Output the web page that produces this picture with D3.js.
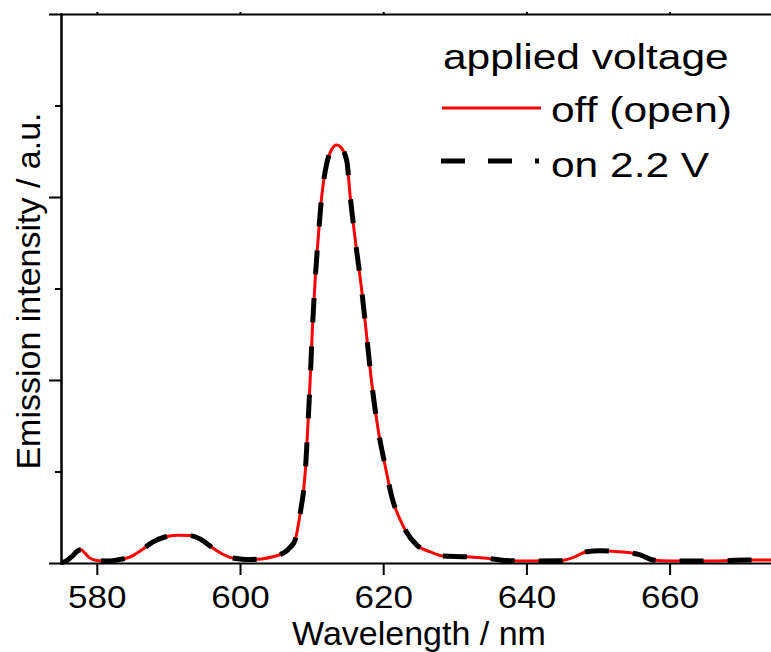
<!DOCTYPE html>
<html>
<head>
<meta charset="utf-8">
<title>Emission spectrum</title>
<script src="https://d3js.org/d3.v7.min.js"></script>
<style>
  body { margin: 0; background: #fff; }
  svg { display: block; font-family: "Liberation Sans", Arial, sans-serif; }
</style>
</head>
<body>
<svg id="chart" width="771" height="652"></svg>
<script>

  // wavelength (nm)
  let wavelengths = [575.0, 575.6, 576.5, 577.4, 577.8, 578.3, 579.0, 580.0, 581.8, 583.0,
    584.6, 586.2, 587.8, 589.5, 591.2, 593.0, 594.4, 595.3, 596.2, 597.4,
    598.6, 600.0, 601.4, 603.0, 604.6, 605.5, 606.3, 607.0, 607.7, 608.4,
    609.1, 609.5, 609.8, 610.1, 610.5, 610.9, 611.4, 612.1, 612.8, 613.5,
    614.0, 614.9, 615.4, 616.1, 617.0, 617.7, 618.4, 619.3, 620.3, 621.2,
    622.6, 624.7, 626.5, 628.4, 631.7, 634.5, 637.3, 640.5, 644.7, 646.6,
    648.4, 650.3, 652.4, 654.5, 655.9, 657.7, 660.1, 666.1, 670.8, 675.0];

  // emission intensity, voltage off (open circuit)
  let offValues = [0.003, 0.008, 0.035, 0.068, 0.072, 0.055, 0.028, 0.014, 0.011, 0.018,
    0.032, 0.070, 0.114, 0.142, 0.152, 0.150, 0.132, 0.108, 0.082, 0.052,
    0.031, 0.022, 0.019, 0.022, 0.034, 0.045, 0.060, 0.085, 0.126, 0.270,
    0.490, 0.765, 1.000, 1.270, 1.550, 1.765, 2.000, 2.180, 2.260, 2.284,
    2.275, 2.200, 2.000, 1.765, 1.490, 1.237, 0.982, 0.727, 0.526, 0.362,
    0.217, 0.098, 0.062, 0.038, 0.034, 0.026, 0.013, 0.011, 0.012, 0.031,
    0.062, 0.067, 0.063, 0.056, 0.044, 0.016, 0.011, 0.011, 0.016, 0.016];

  // emission intensity, voltage on (2.2 V) - lies on top of the off curve
  let onValues = [0.003, 0.008, 0.035, 0.068, 0.072, 0.055, 0.028, 0.014, 0.011, 0.018,
    0.032, 0.070, 0.114, 0.142, 0.152, 0.150, 0.132, 0.108, 0.082, 0.052,
    0.031, 0.022, 0.019, 0.022, 0.034, 0.045, 0.060, 0.085, 0.126, 0.270,
    0.490, 0.765, 1.000, 1.270, 1.550, 1.765, 2.000, 2.180, 2.260, 2.284,
    2.275, 2.200, 2.000, 1.765, 1.490, 1.237, 0.982, 0.727, 0.526, 0.362,
    0.217, 0.098, 0.062, 0.038, 0.034, 0.026, 0.013, 0.011, 0.012, 0.031,
    0.062, 0.067, 0.063, 0.056, 0.044, 0.016, 0.011, 0.011, 0.016, 0.016];

  let xTicks = [580, 600, 620, 640, 660];
  let yMajorTicks = [0, 1, 2, 3];
  let yMinorTicks = [0.5, 1.5, 2.5];

  let seriesNames = ["off (open)", "on 2.2 V"];
  let legendTitle = "applied voltage";

  let svg = d3.select("#chart");

  let x = d3.scaleLinear().domain([575, 675]).range([61, 777]);
  let y = d3.scaleLinear().domain([0, 3]).range([563, 14]);

  let plot = svg.append("g");

  // lines
  let line = d3.line()
    .x(d => x(d[0]))
    .y(d => y(d[1]))
    .curve(d3.curveMonotoneX);

  let offData = wavelengths.map((w, i) => [w, offValues[i]]);
  let onData = wavelengths.map((w, i) => [w, onValues[i]]);

  plot.append("path")
    .datum(offData)
    .attr("d", line)
    .attr("fill", "none")
    .attr("stroke", "#ff0000")
    .attr("stroke-width", 3);

  plot.append("path")
    .datum(onData)
    .attr("d", line)
    .attr("fill", "none")
    .attr("stroke", "#000")
    .attr("stroke-width", 5)
    .attr("stroke-dasharray", "24,24");

  // axes
  function styleAxis(g) {
    g.selectAll("path, line").attr("stroke", "#000").attr("stroke-width", 2);
    g.select(".domain").attr("stroke-linecap", "square");
  }

  let xAxis = d3.axisBottom(x).tickValues(xTicks).tickSize(12).tickSizeOuter(0).tickPadding(11);
  let xGroup = svg.append("g").attr("transform", "translate(0,563)").call(xAxis);
  styleAxis(xGroup);
  // glyphs in the original are a little wide, stretch them sideways
  xGroup.selectAll("text").attr("font-size", 31).attr("fill", "#000")
    .attr("font-family", "Liberation Sans, Arial, sans-serif")
    .attr("transform", "scale(1.13,1)");

  let topAxis = d3.axisTop(x).tickValues(xTicks).tickSize(2).tickSizeOuter(0).tickFormat("");
  let topGroup = svg.append("g").attr("transform", "translate(0,14)").call(topAxis);
  styleAxis(topGroup);

  let yAxis = d3.axisLeft(y).tickValues(yMajorTicks).tickSize(12).tickSizeOuter(0).tickFormat("");
  let yGroup = svg.append("g").attr("transform", "translate(61,0)").call(yAxis);
  styleAxis(yGroup);

  let yMinor = d3.axisLeft(y).tickValues(yMinorTicks).tickSize(6).tickSizeOuter(0).tickFormat("");
  let yMinorGroup = svg.append("g").attr("transform", "translate(61,0)").call(yMinor);
  styleAxis(yMinorGroup);

  // axis titles
  svg.append("text")
    .attr("x", 419)
    .attr("y", 645)
    .attr("text-anchor", "middle")
    .attr("font-size", 34)
    .text("Wavelength / nm");

  svg.append("text")
    .attr("transform", "translate(40,291) rotate(-90)")
    .attr("text-anchor", "middle")
    .attr("font-size", 34)
    .text("Emission intensity / a.u.");

  // legend (text stretched sideways like the original)
  let legend = svg.append("g");
  legend.append("text")
    .attr("transform", "translate(443,69) scale(1.18,1)")
    .attr("font-size", 36)
    .text(legendTitle);

  legend.append("line")
    .attr("x1", 442).attr("x2", 541).attr("y1", 108).attr("y2", 108)
    .attr("stroke", "#ff0000").attr("stroke-width", 3);
  legend.append("text")
    .attr("transform", "translate(551,122) scale(1.18,1)")
    .attr("font-size", 36)
    .text(seriesNames[0]);

  legend.append("line")
    .attr("x1", 441).attr("x2", 539).attr("y1", 161).attr("y2", 161)
    .attr("stroke", "#000").attr("stroke-width", 5)
    .attr("stroke-dasharray", "24,23");
  legend.append("text")
    .attr("transform", "translate(551,177) scale(1.18,1)")
    .attr("font-size", 36)
    .text(seriesNames[1]);

</script>
</body>
</html>
